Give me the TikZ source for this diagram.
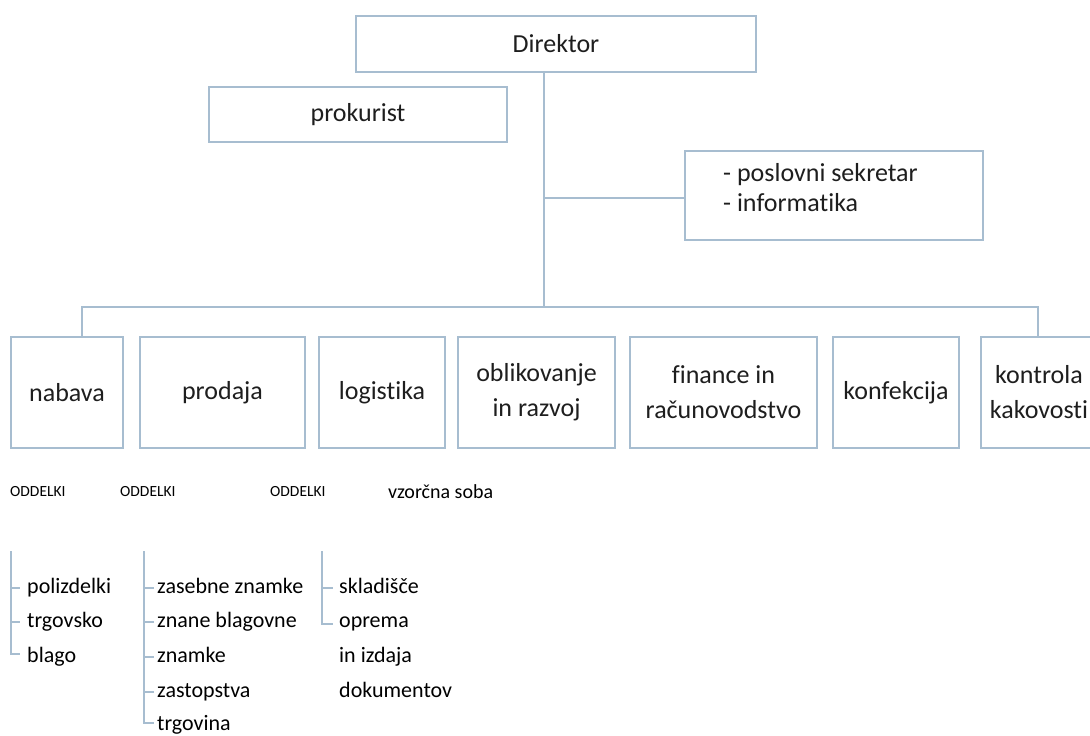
\documentclass[tikz,border=0pt]{standalone}
\usepackage{fontspec}
\setmainfont{Carlito}[Ligatures=NoCommon]
\definecolor{ln}{RGB}{167,189,208}
\definecolor{tx}{RGB}{30,30,30}
\begin{document}
\begin{tikzpicture}[x=1pt,y=-1pt,
 box/.style={draw=ln, line width=2.6pt, inner sep=0pt, text=tx, align=center, font=\fontsize{26}{35}\selectfont},
 conn/.style={draw=ln, line width=2.4pt},
 lst/.style={draw=ln, line width=1.1pt},
 item/.style={anchor=west, inner sep=0pt, text=black, text height=15pt, text depth=5pt, font=\fontsize{22}{26}\selectfont},
 odd/.style={anchor=west, inner sep=0pt, text=black, font=\fontsize{15.5}{18}\selectfont},
 plain/.style={anchor=west, inner sep=0pt, text=tx, align=left, font=\fontsize{26}{30}\selectfont},
]
\useasboundingbox (0,0) rectangle (1090,736);
% top
\node[box, minimum width=400pt, minimum height=56pt] (dir) at (556,44) {Direktor};
\node[box, minimum width=298pt, minimum height=55pt] (pro) at (358,114.5) {prokurist};
\node[box, minimum width=298pt, minimum height=89pt] (sec) at (834,195.5) {};
\node[plain] (sectext) at (723,188) {- poslovni sekretar\\- informatika};
% departments
\node[box, minimum width=112pt, minimum height=111pt] (nab) at (67,392.5) {nabava};
\node[box, minimum width=165pt, minimum height=111pt] (prod) at (222.5,392.5) {prodaja};
\node[box, minimum width=126pt, minimum height=111pt] (log) at (382,392.5) {logistika};
\node[box, minimum width=157pt, minimum height=111pt] (obl) at (536.5,392.5) {oblikovanje\\in razvoj};
\node[box, minimum width=187pt, minimum height=111pt] (fin) at (723.5,392.5) {finance in\\računovodstvo};
\node[box, minimum width=126pt, minimum height=111pt] (konf) at (896,392.5) {konfekcija};
\node[box, minimum width=116pt, minimum height=111pt] (kon) at (1039,392.5) {kontrola\\kakovosti};
% connectors
\coordinate (bus) at (544,307);
\coordinate (tsec) at (544,198);
\draw[conn] (dir.south -| bus) -- (bus);
\draw[conn] (tsec) -- (tsec -| sec.west);
\draw[conn] (nab.north -| 82,0) -- (82,307) -- (1038,307) -- (kon.north -| 1038,0);
% labels under boxes
\node[odd] (o1) at (10,492) {ODDELKI};
\node[odd] (o2) at (120,492) {ODDELKI};
\node[odd] (o3) at (270,492) {ODDELKI};
\node[anchor=west, inner sep=0pt, text=black, font=\fontsize{20}{24}\selectfont] (vz) at (388,492) {vzorčna soba};
% list 1
\node[item] (a1) at (27,588) {polizdelki};
\node[item] (a2) at (27,622) {trgovsko};
\node[item] (a3) at (27,657) {blago};
\coordinate (la) at (11,551);
\draw[lst] (la) -- (11,654) -- (20,654);
\draw[lst] (11,588) -- (20,588);
\draw[lst] (11,622) -- (20,622);
% list 2
\node[item] (b1) at (157,588) {zasebne znamke};
\node[item] (b2) at (157,622) {znane blagovne};
\node[item] (b3) at (157,657) {znamke};
\node[item] (b4) at (157,692) {zastopstva};
\node[item] (b5) at (157,725) {trgovina};
\coordinate (lb) at (144,551);
\draw[lst] (lb) -- (144,723) -- (154,723);
\foreach \yy in {588,622,657,692} \draw[lst] (144,\yy) -- (154,\yy);
% list 3
\node[item] (c1) at (339,588) {skladišče};
\node[item] (c2) at (339,622) {oprema};
\node[item] (c3) at (339,657) {in izdaja};
\node[item] (c4) at (339,692) {dokumentov};
\coordinate (lc) at (322,551);
\draw[lst] (lc) -- (322,624) -- (333,624);
\draw[lst] (322,588) -- (333,588);
\end{tikzpicture}
\end{document}
